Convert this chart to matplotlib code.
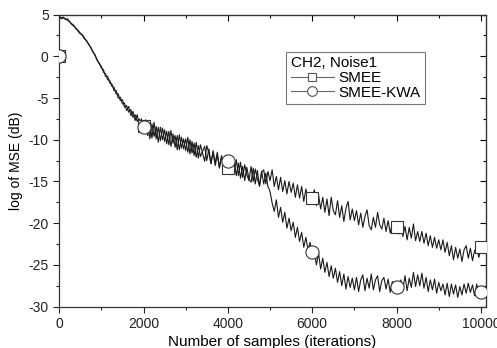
import numpy as np
import matplotlib.pyplot as plt
from matplotlib.ticker import MultipleLocator

plt.rcParams['font.family'] = ['Liberation Sans', 'DejaVu Sans']
plt.rcParams['axes.unicode_minus'] = False

# samples every 50 iterations (dB)
step = 50
smee = [
    4.9, 4.5, 4.6, 4.5, 4.3, 4.2, 3.8, 3.6, 3.4, 3.0,
    2.7, 2.6, 2.2, 1.8, 1.5, 1.0, 0.6, 0.1, -0.4, -0.9,
    -1.2, -1.9, -2.1, -2.8, -2.9, -3.6, -3.7, -4.5, -4.5, -5.3,
    -5.2, -6.1, -5.9, -6.7, -6.4, -7.3, -7.0, -7.8, -7.5, -8.2,
    -8.4,
    -9.2, -7.9, -9.9, -8.1, -9.6, -8.4, -10.3, -8.5, -10.0, -8.8,
    -10.5, -9.0, -10.8, -9.3, -10.9, -9.5, -11.2, -9.7, -11.1, -9.9,
    -11.5, -10.0, -11.6, -10.4, -12.1, -10.7, -12.0, -11.4, -10.8, -12.5,
    -11.1, -12.8, -11.5, -13.1, -11.8, -13.4, -12.1, -13.0, -13.7, -12.7,
    -12.0, -14.0, -12.6, -14.3, -12.8, -14.6, -13.2, -14.9, -13.3, -14.7,
    -15.1, -13.4, -15.3, -13.7, -15.6, -13.9, -13.6, -15.3, -13.8, -14.9,
    -13.6, -15.6, -14.4, -16.0, -14.5, -16.2, -14.9, -16.5, -15.0, -16.3,
    -15.2, -16.9, -15.4, -17.0, -15.6, -17.4, -15.9, -17.2, -17.6, -16.9,
    -16.0, -17.9, -16.6, -18.3, -16.9, -18.7, -17.1, -19.1, -16.9, -18.5,
    -19.0, -17.3, -19.3, -17.9, -19.8, -18.2, -17.4, -19.6, -18.3, -19.7,
    -18.5, -20.2, -18.8, -20.5, -19.2, -18.4, -20.3, -20.8, -19.3, -20.5,
    -18.7, -20.2, -20.7, -19.4, -21.0, -19.7, -21.2, -19.9, -20.9, -20.5,
    -21.3, -20.0, -21.6, -20.4, -22.0, -20.5, -21.8, -20.1, -22.1, -21.0,
    -22.2, -21.0, -22.4, -21.2, -22.7, -21.5, -22.9, -21.7, -23.0, -22.0,
    -23.2, -22.0, -23.5, -22.3, -23.9, -22.7, -24.4, -22.9, -24.2, -23.1,
    -24.6, -23.2, -22.7, -24.2, -23.0, -24.5, -23.3, -22.9, -24.1, -23.0,
]
smee_kwa = [
    4.8, 4.6, 4.7, 4.4, 4.5, 4.1, 3.9, 3.7, 3.3, 3.1,
    2.8, 2.5, 2.1, 1.9, 1.4, 1.1, 0.5, 0.2, -0.5, -0.8,
    -1.4, -1.6, -2.4, -2.4, -3.2, -3.3, -4.1, -4.1, -5.0, -4.9,
    -5.7, -5.6, -6.5, -6.0, -7.1, -6.6, -7.7, -7.0, -8.3, -7.5,
    -8.6,
    -7.6, -9.5, -8.0, -9.8, -7.9, -9.9, -8.5, -10.1, -8.6, -10.2,
    -9.0, -10.6, -8.9, -10.4, -9.5, -11.2, -9.4, -11.0, -9.9, -11.3,
    -9.7, -11.7, -10.2, -11.9, -10.3, -12.2, -10.6, -11.6, -12.6, -10.7,
    -11.6, -12.9, -11.3, -12.8, -11.5, -13.3, -11.9, -13.4, -12.0, -12.6,
    -13.4, -12.0, -13.9, -12.4, -14.3, -12.7, -14.5, -13.0, -14.2, -14.9,
    -13.2, -15.0, -13.5, -14.7, -15.5, -13.8, -15.3, -14.0, -15.6, -16.2,
    -17.6, -18.6, -17.2, -19.3, -18.1, -19.9, -18.7, -20.6, -19.4, -20.9,
    -19.9, -21.7, -20.5, -22.2, -21.1, -22.9, -21.7, -23.2, -22.3, -23.6,
    -23.4, -25.0, -23.6, -25.5, -24.2, -25.9, -24.7, -26.4, -25.1, -26.6,
    -25.4, -27.1, -25.8, -27.5, -26.1, -27.9, -26.4, -27.7, -26.6, -28.0,
    -26.5, -28.2, -26.8, -26.2, -28.1, -26.6, -27.8, -26.1, -28.0, -26.8,
    -26.3, -28.2, -26.9, -26.5, -27.9, -26.7, -28.3, -27.0, -27.8, -27.6,
    -28.2, -26.8, -27.9, -26.3, -28.1, -26.6, -27.7, -25.9, -27.6, -26.2,
    -27.5, -26.0, -27.8, -26.5, -28.2, -26.8, -28.0, -26.7, -28.4, -27.1,
    -28.1, -27.3, -28.6, -27.2, -28.8, -27.3, -28.5, -27.4, -28.9, -27.6,
    -28.6, -27.3, -28.4, -27.2, -28.3, -27.4, -28.7, -27.3, -28.4, -28.2,
]

# marker symbols (drawn separately in the original)
mark_x = [0, 2000, 4000, 6000, 8000, 10000]
smee_marks = [0.0, -8.4, -13.4, -17.0, -20.5, -22.9]
kwa_marks = [0.0, -8.5, -12.6, -23.4, -27.6, -28.2]

x = np.arange(len(smee)) * step

fig = plt.figure(figsize=(4.97, 3.48), dpi=100)
ax = fig.add_axes([0.119, 0.119, 0.858, 0.839])

lc = "#1a1a1a"
ax.plot(x, smee, color=lc, lw=0.8)
ax.plot(x, smee_kwa, color=lc, lw=0.8)
ax.plot(mark_x, smee_marks, ls="none", marker="s", ms=8, mfc="white",
        mec="#333333", mew=0.8, zorder=3)
ax.plot(mark_x, kwa_marks, ls="none", marker="o", ms=9.5, mfc="white",
        mec="#333333", mew=0.8, zorder=4)

# legend proxies
h1, = ax.plot([], [], color="#666666", lw=0.8, marker="s", ms=6,
              mfc="white", mec="#555555", mew=0.8)
h2, = ax.plot([], [], color="#666666", lw=0.8, marker="o", ms=7,
              mfc="white", mec="#555555", mew=0.8)
leg = ax.legend([h1, h2], ["SMEE", "SMEE-KWA"], title="CH2, Noise1",
                loc="upper left", bbox_to_anchor=(0.533, 0.873),
                borderaxespad=0, fontsize=11, title_fontsize=11,
                frameon=True, fancybox=False, edgecolor="#555555",
                handlelength=2.8, handletextpad=0.3, labelspacing=0.05,
                borderpad=0.3, alignment="left")
leg.get_frame().set_linewidth(0.8)

ax.set_xlim(0, 10110)
ax.set_ylim(-30, 5)
ax.xaxis.set_major_locator(MultipleLocator(2000))
ax.xaxis.set_minor_locator(MultipleLocator(1000))
ax.yaxis.set_major_locator(MultipleLocator(5))
ax.yaxis.set_minor_locator(MultipleLocator(2.5))
ax.tick_params(which="both", direction="out", labelsize=10, width=0.8,
               colors="#222222")
ax.tick_params(which="major", length=4)
ax.tick_params(which="minor", length=2.5)

for side in ("top", "right"):
    if side == "top":
        sec = ax.secondary_xaxis("top")
    else:
        sec = ax.secondary_yaxis("right")
    axis = sec.xaxis if side == "top" else sec.yaxis
    axis.set_major_locator(MultipleLocator(2000 if side == "top" else 5))
    axis.set_minor_locator(MultipleLocator(1000 if side == "top" else 2.5))
    sec.tick_params(which="both", direction="in", labelsize=0, width=0.8,
                    labelleft=False, labelright=False, labeltop=False)
    sec.tick_params(which="major", length=4)
    sec.tick_params(which="minor", length=2.5)

for s in ax.spines.values():
    s.set_linewidth(0.9)
    s.set_color("#333333")

ax.set_xlabel("Number of samples (iterations)", fontsize=11, labelpad=3)
ax.set_ylabel("log of MSE (dB)", fontsize=10, labelpad=4)

fig.savefig("out.png", dpi=100)
